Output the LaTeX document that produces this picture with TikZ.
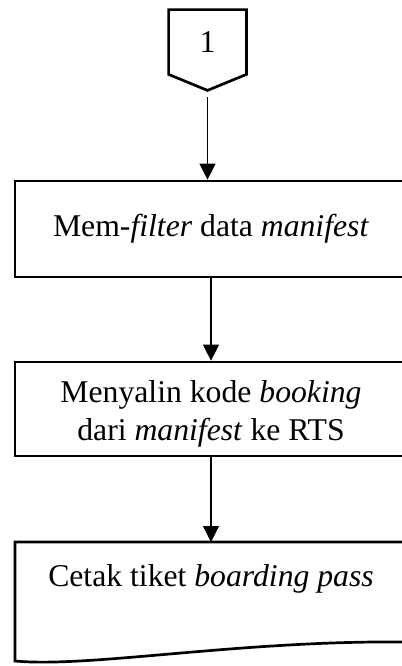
\documentclass[tikz,border=0pt]{standalone}
\usepackage{fontspec}
\setmainfont{Liberation Serif}
\usepackage{tikz}
\usetikzlibrary{arrows.meta}

\begin{document}
\begin{tikzpicture}[x=0.5pt,y=-0.5pt,
  font=\fontsize{15.85}{19}\selectfont,
  prosesbox/.style={draw,line width=1.35pt,rectangle,minimum width=196pt,inner sep=0pt,align=center},
  alur/.style={-{Triangle[length=8pt,width=8pt]},line width=0.6pt}]
\useasboundingbox (0,0) rectangle (402,666);
\clip (0,0) rectangle (402,666);
% penghubung halaman
\node[minimum width=38.5pt,minimum height=32pt,inner sep=0pt] (hub) at (207.5,42) {1};
\coordinate (ujung) at ([yshift=-8pt]hub.south);
\draw[line width=1.35pt,line join=miter] (hub.north west) -- (hub.north east) -- (hub.south east) -- (ujung) -- (hub.south west) -- cycle;
% proses
\node[prosesbox,minimum height=48pt] (filter) at (211,229) {Mem-\textit{filter} data \textit{manifest}};
\node[prosesbox,minimum height=47pt] (salin) at (211,409) {};
\node[align=center,inner sep=0pt] (salinteks) at ([yshift=-2.5pt]salin.center) {Menyalin kode \textit{booking}\\dari \textit{manifest} ke RTS};
% dokumen
\node[inner sep=0pt] (cetak) at (211,579) {Cetak tiket \textit{boarding pass}};
\coordinate (cetakatas) at (211,542);
\draw[line width=1.35pt] (409,642) -- (409,542) -- (15,542) -- (15,661) .. controls (90,668) and (240,640) .. (409,642);
% alur
\draw[alur,shorten <=3.5pt] (ujung) -- (ujung |- filter.north);
\draw[alur] (filter.south) -- (salin.north);
\draw[alur] (salin.south) -- (cetakatas);
\end{tikzpicture}
\end{document}
